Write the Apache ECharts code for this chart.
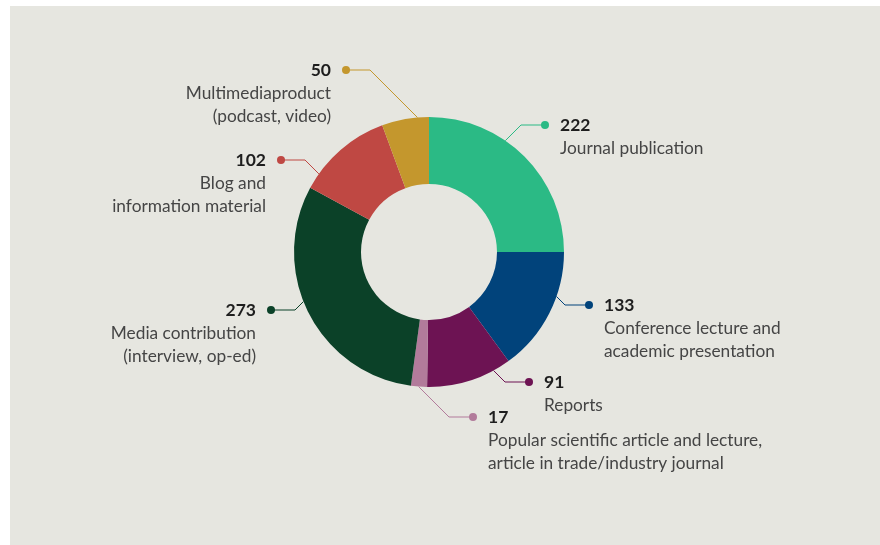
<!DOCTYPE html>
<html><head><meta charset="utf-8">
<script src="https://cdn.jsdelivr.net/npm/echarts@6/dist/echarts.min.js"></script>
<style>html,body{margin:0;padding:0;background:#fff}#c{width:880px;height:545px}</style>
</head><body><div id="c"></div>
<script>
// ---- data ----
const categories = [
  'Journal publication',
  'Conference lecture and\nacademic presentation',
  'Reports',
  'Popular scientific article and lecture,\narticle in trade/industry journal',
  'Media contribution\n(interview, op-ed)',
  'Blog and\ninformation material',
  'Multimediaproduct\n(podcast, video)'
];
const values = [222, 133, 91, 17, 273, 102, 50];

// ---- styles / layout ----
const colors = ['#2bba85', '#01437b', '#6d1353', '#b27b9b', '#0b4128', '#bf4843', '#c4972d'];
const anchorX = [545, 589, 529, 473, 271, 281, 346];
const anchorY = [125, 305, 382, 417, 310, 160, 70];
const CX = 429, CY = 252, R0 = 68, R = 135;
const DOT = 8, GAP = 11, BEND = 24, LH = 23;
const FONT = 'Lato, "Open Sans", sans-serif';

function leader(i) {
  const dx = anchorX[i], dy = anchorY[i];
  const left = dx < CX;
  const bx = dx + (left ? BEND : -BEND), by = dy;
  const sx = left ? 1 : -1, sy = by < CY ? 1 : -1;
  const px = bx - CX, py = by - CY;
  const B = 2 * (px * sx + py * sy), C = px * px + py * py - R * R;
  const t = (-B - Math.sqrt(B * B - 8 * C)) / 4;
  return [[bx + sx * t, by + sy * t], [bx, by], [dx, dy]];
}

const rich = {
  v: { fontFamily: FONT, fontSize: 17.5, fontWeight: 'bold', color: '#1e1e1e', lineHeight: LH },
  n: { fontFamily: FONT, fontSize: 17.3, color: '#454545', lineHeight: LH },
  g: { width: GAP, lineHeight: LH },
  s: { width: DOT + GAP, lineHeight: LH }
};
colors.forEach((c, i) => {
  rich['d' + i] = { width: DOT, height: DOT, borderRadius: DOT / 2, backgroundColor: c };
});

const chart = echarts.init(document.getElementById('c'), null, { renderer: 'canvas' });
chart.setOption({
  animation: false,
  graphic: [{
    type: 'rect', left: 10, top: 6, z: -100, silent: true,
    shape: { width: 870, height: 539 },
    style: { fill: '#e6e6e0' }
  }],
  series: [{
    type: 'pie',
    center: [CX, CY],
    radius: [R0, R],
    startAngle: 90,
    clockwise: true,
    avoidLabelOverlap: false,
    emphasis: { disabled: true },
    itemStyle: { borderWidth: 0 },
    data: categories.map((name, i) => ({ name, value: values[i], itemStyle: { color: colors[i] } })),
    label: {
      show: true,
      position: 'outside',
      rich,
      formatter: p => {
        const i = p.dataIndex;
        const left = anchorX[i] < CX;
        const lines = p.name.split('\n');
        if (!left) {
          return '{d' + i + '|}{g|}{v|' + p.value + '}\n' + lines.map(l => '{s|}{n|' + l + '}').join('\n');
        }
        return '{v|' + p.value + '}{g|}{d' + i + '|}\n' + lines.map(l => '{n|' + l + '}{s|}').join('\n');
      }
    },
    labelLine: { show: true, length: 10, length2: 20, smooth: false, lineStyle: { width: 1 } },
    labelLayout: params => {
      const i = params.dataIndex;
      const left = anchorX[i] < CX;
      return {
        x: left ? anchorX[i] + DOT / 2 : anchorX[i] - DOT / 2,
        y: anchorY[i] - LH / 2,
        align: left ? 'right' : 'left',
        verticalAlign: 'top',
        labelLinePoints: leader(i)
      };
    }
  }]
});
</script>
</body></html>
